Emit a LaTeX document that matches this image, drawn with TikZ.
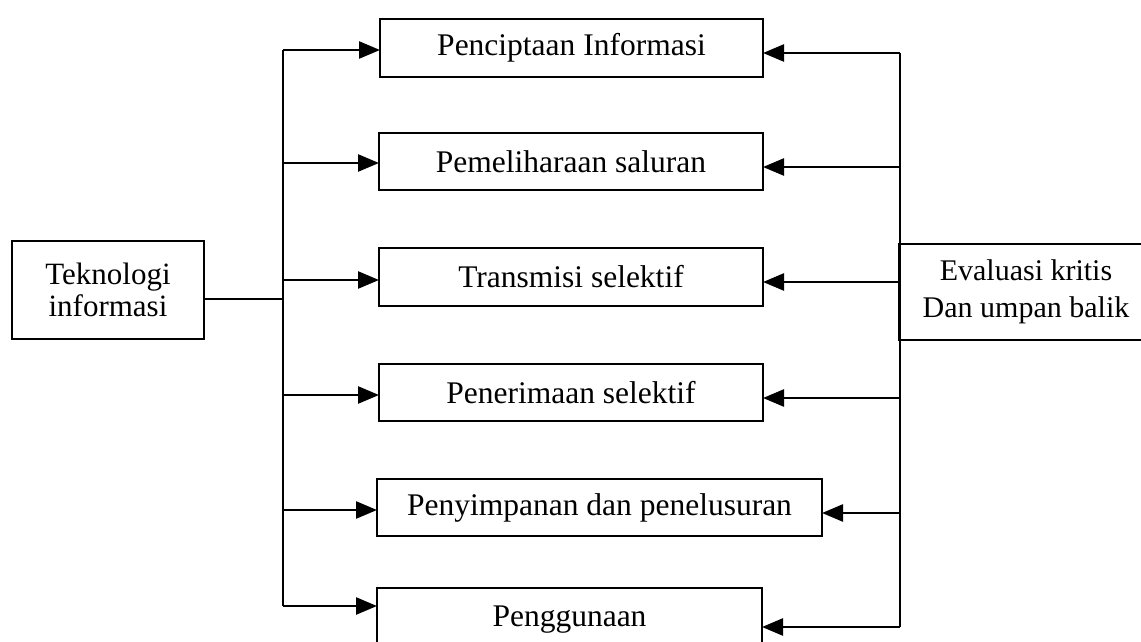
\documentclass[tikz,border=0pt]{standalone}
\usepackage{fontspec}
\setmainfont{Liberation Serif}
\usetikzlibrary{arrows.meta}
\begin{document}
\begin{tikzpicture}[x=1pt,y=-1pt,
  box/.style={draw,line width=2.5pt,rectangle,inner sep=0pt,outer sep=0pt,
    font=\fontsize{31.5}{37}\selectfont},
  link/.style={line width=2.5pt},
  arr/.style={line width=2.5pt,-{Triangle[length=21pt,width=17pt]}}]
\useasboundingbox (0,0) rectangle (1141,642);
\clip (0,0) rectangle (1141,642);
% boxes
\node[box,minimum width=383pt,minimum height=58pt] (b1) at (571.5,48) {Penciptaan Informasi};
\node[box,minimum width=384pt,minimum height=57pt] (b2) at (571,161.5) {Pemeliharaan saluran};
\node[box,minimum width=384pt,minimum height=58pt] (b3) at (571,277) {Transmisi selektif};
\node[box,minimum width=384pt,minimum height=57pt] (b4) at (571,392.5) {Penerimaan selektif};
\node[box,minimum width=445pt,minimum height=57pt] (b5) at (599.5,507.5) {Penyimpanan dan penelusuran};
\node[box,minimum width=385pt,minimum height=62pt,text height=22pt,text depth=7pt,anchor=north] (b6) at (569.5,588) {Penggunaan};
\node[box,minimum width=192pt,minimum height=98pt,align=center,
  font=\fontsize{31}{32}\selectfont] (tek) at (108,290) {Teknologi\\informasi};
\node[box,minimum width=254pt,minimum height=96pt,align=center,
  font=\fontsize{30}{37}\selectfont] (eva) at (1026,292) {Evaluasi kritis\\Dan umpan balik};
% left bus
\coordinate (L1) at (283,50);
\coordinate (L2) at (283,163);
\coordinate (L3) at (283,280);
\coordinate (L4) at (283,395);
\coordinate (L5) at (283,510);
\coordinate (L6) at (283,606);
\coordinate (LJ) at (283,299);
\draw[link] (L1) -- (L6);
\draw[link] (tek.east |- LJ) -- (LJ);
\draw[arr] (L1) -- (L1 -| b1.west);
\draw[arr] (L2) -- (L2 -| b2.west);
\draw[arr] (L3) -- (L3 -| b3.west);
\draw[arr] (L4) -- (L4 -| b4.west);
\draw[arr] (L5) -- (L5 -| b5.west);
\draw[arr] (L6) -- (L6 -| b6.west);
% right bus
\coordinate (R1) at (900,53);
\coordinate (R2) at (900,167);
\coordinate (R3) at (900,282);
\coordinate (R4) at (900,398);
\coordinate (R5) at (900,513);
\coordinate (R6) at (900,627);
\draw[link] (R1) -- (R6);
\draw[arr] (R1) -- (R1 -| b1.east);
\draw[arr] (R2) -- (R2 -| b2.east);
\draw[arr] (R3) -- (R3 -| b3.east);
\draw[arr] (R4) -- (R4 -| b4.east);
\draw[arr] (R5) -- (R5 -| b5.east);
\draw[arr] (R6) -- (R6 -| b6.east);
\end{tikzpicture}
\end{document}
